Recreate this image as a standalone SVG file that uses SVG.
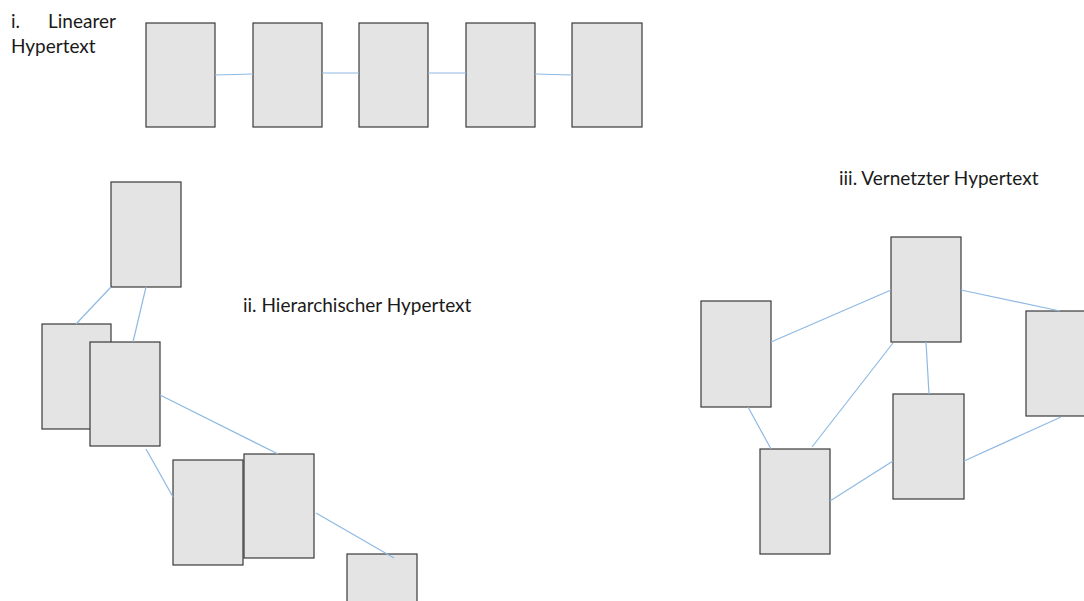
<svg xmlns="http://www.w3.org/2000/svg" width="1084" height="601" viewBox="0 0 1084 601">
<style>
.box{fill:#e4e4e4;stroke:#3a3a3a;stroke-width:1.2}
.lnk{stroke:#8fb9e4;stroke-width:1.2;fill:none}
.lbl{font-family:Lato,"Open Sans",sans-serif;font-size:19px;fill:#1a1a1a}
</style>
<rect width="1084" height="601" fill="#ffffff"/>
<g id="labels">
<text class="lbl" x="11" y="28">i.</text>
<text class="lbl" x="48" y="28">Linearer</text>
<text class="lbl" x="11" y="53">Hypertext</text>
<text class="lbl" x="243" y="312">ii. Hierarchischer Hypertext</text>
<text class="lbl" x="839" y="185">iii. Vernetzter Hypertext</text>
</g>
<g id="linear">
<g id="l1"><rect class="box" x="146" y="23" width="69" height="104"/></g>
<g id="l2"><rect class="box" x="253" y="23" width="69" height="104"/></g>
<g id="l3"><rect class="box" x="359" y="23" width="69" height="104"/></g>
<g id="l4"><rect class="box" x="466" y="23" width="69" height="104"/></g>
<g id="l5"><rect class="box" x="572" y="23" width="70" height="104"/></g>
</g>
<g id="hier">
<g id="h1"><rect class="box" x="111" y="182" width="70" height="105"/></g>
<g id="h2"><rect class="box" x="42" y="324" width="69" height="105"/></g>
<g id="h3"><rect class="box" x="90" y="342" width="70" height="104"/></g>
<g id="h4"><rect class="box" x="173" y="460" width="70" height="105"/></g>
<g id="h5"><rect class="box" x="244" y="454" width="70" height="104"/></g>
<g id="h6"><rect class="box" x="347" y="554" width="70" height="104"/></g>
</g>
<g id="net">
<g id="n1"><rect class="box" x="891" y="237" width="70" height="105"/></g>
<g id="n2"><rect class="box" x="701" y="301" width="70" height="106"/></g>
<g id="n3"><rect class="box" x="1026" y="311" width="70" height="105"/></g>
<g id="n4"><rect class="box" x="893" y="394" width="71" height="105"/></g>
<g id="n5"><rect class="box" x="760" y="449" width="70" height="105"/></g>
</g>
<g id="connectors">
<line class="lnk" x1="215" y1="75" x2="253" y2="74"/>
<line class="lnk" x1="322" y1="73" x2="359" y2="73"/>
<line class="lnk" x1="428" y1="73" x2="466" y2="73"/>
<line class="lnk" x1="535" y1="74" x2="572" y2="75"/>
<line class="lnk" x1="111" y1="287" x2="76" y2="324"/>
<line class="lnk" x1="146" y1="287" x2="133" y2="342"/>
<line class="lnk" x1="160" y1="395" x2="278" y2="454"/>
<line class="lnk" x1="146" y1="449" x2="173" y2="497"/>
<line class="lnk" x1="316" y1="513" x2="394" y2="558"/>
<line class="lnk" x1="771" y1="342" x2="891" y2="290"/>
<line class="lnk" x1="961" y1="290" x2="1060" y2="311"/>
<line class="lnk" x1="893" y1="343" x2="812" y2="447"/>
<line class="lnk" x1="926" y1="342" x2="929" y2="394"/>
<line class="lnk" x1="748" y1="407" x2="771" y2="449"/>
<line class="lnk" x1="830" y1="501" x2="893" y2="461"/>
<line class="lnk" x1="964" y1="461" x2="1061" y2="417"/>
</g>
</svg>
